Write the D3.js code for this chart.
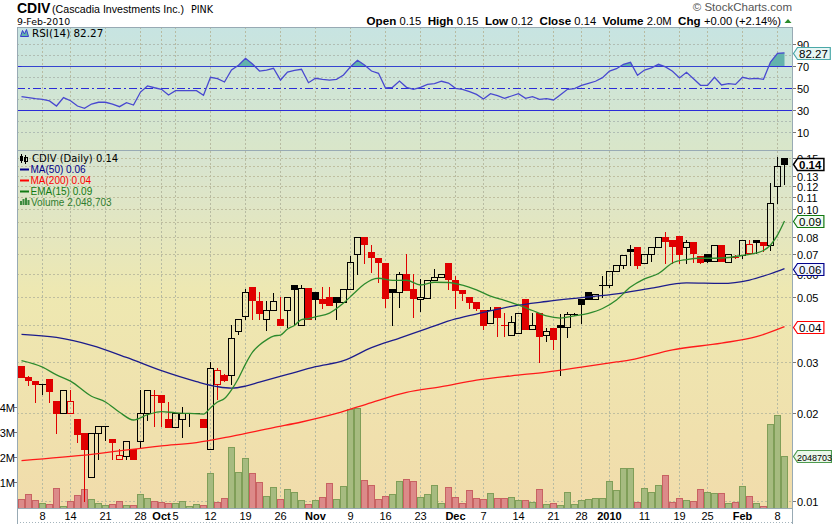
<!DOCTYPE html>
<html>
<head>
<meta charset="utf-8">
<script src="https://cdn.jsdelivr.net/npm/d3@7"></script>
<style>
  html, body { margin: 0; padding: 0; background: #fff; }
  svg { display: block; font-family: "Liberation Sans", Arial, sans-serif; }
</style>
</head>
<body>
<svg id="chart" width="832" height="524"></svg>
<script>
// ---------- data ----------
// sessions: Sep 2 2009 .. Feb 9 2010, market holidays removed
const holidays = ["2009-09-07", "2009-11-26", "2009-12-25", "2010-01-01", "2010-01-18"];

const open = [
  .0291,.0267,.0258,.0253,.0262,.0221,.0200,.0200,.0191,.0171,
  .0121,.0171,.0181,.0163,.0140,.0143,.0151,.0161,.0201,.0232,
  .0232,.0191,.0180,.0191,.0201,.0201,.0191,.0151,.0252,.0270,
  .0270,.0383,.0431,.0541,.0484,.0420,.0451,.0420,.0451,.0549,
  .0400,.0539,.0520,.0493,.0499,.0499,.0481,.0532,.0700,.0801,
  .0711,.0679,.0654,.0533,.0519,.0598,.0533,.0491,.0497,.0571,
  .0584,.0654,.0571,.0529,.0501,.0480,.0452,.0407,.0461,.0400,
  .0370,.0376,.0493,.0390,.0440,.0370,.0391,.0400,.0394,.0438,
  .0493,.0519,.0491,.0549,.0549,.0614,.0642,.0730,.0740,.0652,
  .0700,.0740,.0801,.0784,.0809,.0740,.0770,.0691,.0700,.0662,
  .0752,.0661,.0687,.0695,.0709,.0784,.0770,.0754,.1199,.1500
];
const high = [
  .0291,.0268,.0258,.0253,.0262,.0221,.0240,.0240,.0191,.0171,
  .0171,.0181,.0181,.0163,.0151,.0161,.0151,.0240,.0240,.0240,
  .0232,.0219,.0200,.0211,.0201,.0201,.0191,.0301,.0287,.0272,
  .0400,.0420,.0533,.0541,.0519,.0485,.0515,.0502,.0499,.0549,
  .0549,.0539,.0520,.0543,.0543,.0499,.0532,.0691,.0801,.0801,
  .0754,.0679,.0654,.0533,.0611,.0702,.0598,.0578,.0571,.0622,
  .0598,.0654,.0590,.0529,.0501,.0480,.0452,.0461,.0461,.0440,
  .0431,.0440,.0493,.0440,.0440,.0391,.0391,.0437,.0443,.0440,
  .0493,.0519,.0511,.0590,.0614,.0642,.0695,.0754,.0740,.0700,
  .0740,.0801,.0837,.0784,.0809,.0784,.0770,.0691,.0700,.0752,
  .0752,.0700,.0695,.0787,.0784,.0784,.0770,.1231,.1511,.1500
];
const low = [
  .0267,.0251,.0219,.0233,.0219,.0171,.0200,.0200,.0160,.0100,
  .0121,.0140,.0162,.0140,.0140,.0140,.0140,.0152,.0190,.0181,
  .0181,.0180,.0180,.0166,.0181,.0201,.0180,.0151,.0225,.0259,
  .0252,.0375,.0420,.0420,.0420,.0386,.0451,.0400,.0396,.0401,
  .0400,.0420,.0420,.0458,.0470,.0420,.0481,.0532,.0598,.0653,
  .0611,.0563,.0461,.0400,.0461,.0530,.0429,.0449,.0497,.0571,
  .0584,.0532,.0459,.0489,.0458,.0452,.0390,.0407,.0368,.0368,
  .0370,.0376,.0390,.0390,.0301,.0355,.0331,.0271,.0364,.0436,
  .0409,.0494,.0491,.0502,.0543,.0614,.0630,.0643,.0627,.0652,
  .0666,.0740,.0652,.0652,.0652,.0652,.0658,.0652,.0661,.0662,
  .0666,.0661,.0680,.0679,.0709,.0709,.0720,.0724,.1046,.1220
];
const close = [
  .0267,.0261,.0252,.0253,.0239,.0200,.0240,.0220,.0170,.0151,
  .0171,.0181,.0181,.0160,.0144,.0161,.0140,.0201,.0240,.0232,
  .0219,.0180,.0200,.0201,.0201,.0201,.0180,.0285,.0281,.0261,
  .0361,.0420,.0519,.0490,.0440,.0451,.0485,.0400,.0499,.0532,
  .0539,.0420,.0491,.0478,.0470,.0481,.0532,.0658,.0801,.0758,
  .0687,.0661,.0497,.0519,.0598,.0530,.0497,.0501,.0571,.0584,
  .0598,.0577,.0528,.0518,.0480,.0460,.0400,.0452,.0429,.0400,
  .0410,.0440,.0390,.0400,.0369,.0382,.0360,.0394,.0437,.0438,
  .0472,.0494,.0511,.0549,.0614,.0642,.0695,.0719,.0643,.0700,
  .0740,.0801,.0778,.0750,.0700,.0770,.0709,.0660,.0662,.0752,
  .0666,.0700,.0687,.0784,.0758,.0770,.0754,.1046,.1400,.1430
];
const priorClose = 0.0295;   // close of the session before the first one shown

// volume, millions of shares
const volume = [
  .33,.53,.29,.17,.13,.76,.07,.25,.49,.72,
  .33,.17,.11,.13,.25,.09,.09,.53,.38,.25,
  .21,.17,.17,.25,.07,.13,.09,1.39,.21,.38,
  2.38,1.43,1.95,1.36,1.00,.46,.80,.33,.72,.61,
  .29,.13,.29,.41,.96,.33,.84,3.92,3.96,1.08,
  .88,.33,.45,.53,1.04,1.12,1.04,.41,.53,.88,
  .17,.80,.41,.17,.68,.37,.33,.57,.37,.37,
  .41,.29,.29,.21,.72,.13,.17,.09,.61,.13,
  .29,.33,.37,.37,1.04,.68,1.55,1.55,.21,.76,
  .61,.88,1.28,.21,.37,.29,.25,.72,.64,.57,
  .57,.17,.21,.84,.45,.17,.05,3.29,3.68,2.048703
];

// RSI(14)
const rsi = [
  42.4,41.5,40.6,40.0,38.5,33.9,41.5,38.7,33.9,31.8,
  35.7,37.3,37.3,35.7,33.3,36.9,34.8,46.6,52.1,50.5,
  49.1,43.9,47.8,47.8,47.8,47.8,43.6,60.0,58.7,55.7,
  66.6,70.9,77.3,72.1,65.7,66.6,68.2,57.5,64.8,66.3,
  67.3,55.1,59.1,58.2,57.5,58.2,62.1,69.6,75.5,71.2,
  65.7,63.6,50.3,50.9,56.6,50.9,49.1,50.9,53.6,54.2,
  56.4,54.8,50.0,49.1,46.9,44.5,40.3,45.1,43.3,40.9,
  43.0,45.1,40.9,42.4,40.0,40.6,39.4,44.2,49.1,49.7,
  52.7,54.5,56.4,59.7,65.7,67.8,71.8,73.6,61.8,66.6,
  68.5,71.8,69.4,65.5,59.4,64.5,58.7,52.7,52.7,60.0,
  53.0,54.2,53.6,60.0,58.5,59.1,58.2,73.9,81.8,82.27
];

// moving averages, by session index
const ma50At  = [0,5,10,15,20,25,28,30,32,34,38,42,46,50,54,58,62,66,70,75,80,85,90,95,100,104,107,109];
const ma50    = [.0373,.0364,.0342,.0311,.0280,.0257,.0247,.0244,.0248,.0256,.0272,.0289,.0303,.0336,.0362,.0391,.0421,.0443,.0465,.0483,.0498,.0513,.0537,.0559,.0557,.0572,.0601,.0626];
const ma200At = [0,10,20,25,30,36,40,45,50,55,60,65,70,75,80,85,87,93,100,105,109];
const ma200   = [.0138,.0145,.0155,.0159,.0167,.0179,.0187,.0200,.0218,.0236,.0247,.0260,.0269,.0277,.0288,.0300,.0305,.0330,.0348,.0366,.0396];
const ema15At = [0,3,5,7,10,12,14,16,18,20,22,24,26,27,28,29,30,31,32,33,34,35,36,37,38,39,40,41,42,44,46,47,48,49,50,51,53,55,57,59,61,63,65,67,69,71,73,75,77,79,81,83,85,87,89,91,93,95,97,99,101,103,105,106,107,108,109];
const ema15   = [.0303,.0288,.0271,.0258,.0229,.0219,.0202,.0190,.0198,.0203,.0201,.0200,.0199,.0209,.0219,.0225,.0241,.0264,.0295,.0324,.0343,.0357,.0368,.0371,.0389,.0400,.0419,.0422,.0428,.0441,.0477,.0502,.0529,.0554,.0573,.0580,.0570,.0571,.0550,.0562,.0561,.0549,.0529,.0504,.0487,.0470,.0450,.0431,.0424,.0431,.0440,.0457,.0489,.0541,.0577,.0602,.0654,.0672,.0679,.0679,.0683,.0694,.0708,.0722,.0754,.0815,.0910];

// date axis
const tickDates  = ["2009-09-08","2009-09-14","2009-09-21","2009-09-28","2009-10-01","2009-10-05","2009-10-12","2009-10-19","2009-10-26","2009-11-02","2009-11-09","2009-11-16","2009-11-23","2009-12-01","2009-12-07","2009-12-14","2009-12-21","2009-12-28","2010-01-04","2010-01-11","2010-01-19","2010-01-25","2010-02-01","2010-02-08"];
const tickLabels = ["8","14","21","28","Oct","5","12","19","26","Nov","9","16","23","Dec","7","14","21","28","2010","11","19","25","Feb","8"];
const tickBold   = ["Oct","Nov","Dec","2010","Feb"];

// price labels (those under a value tag are left to the tag)
const priceTicks  = [0.01,0.02,0.03,0.05,0.06,0.07,0.08,0.10,0.11,0.12,0.13,0.15];
const priceGrid   = [0.01,0.02,0.03,0.04,0.05,0.06,0.07,0.08,0.09,0.10,0.11,0.12,0.13,0.14,0.15];
const rsiTicks    = [10,30,50,70,90];
const rsiGrid     = [10,20,40,60,80,90];
const volumeTicks = [1,2,3,4];

// ---------- layout ----------
const L = 17, R = 793;
const rsiTop = 27, rsiBot = 150, priceTop = 151, priceBot = 508;

const fmtDay = d3.utcFormat("%Y-%m-%d");
const sessions = d3.utcDay.range(new Date(Date.UTC(2009, 8, 2)), new Date(Date.UTC(2010, 1, 10)))
  .filter(d => d.getUTCDay() % 6 !== 0 && !holidays.includes(fmtDay(d)))
  .map(fmtDay);

const x = d3.scaleBand().domain(sessions).range([18, 18 + 7 * sessions.length]);
const xc = i => x(sessions[i]) + 3.5;
const yP = d3.scaleLog().domain([0.0095, 0.158]).range([priceBot, priceTop]);
const yR = d3.scaleLinear().domain([0, 100]).range([143.3, 33.3]);
const yV = d3.scaleLinear().domain([0, 4]).range([507.7, 406.5]);

const svg = d3.select("#chart");
const defs = svg.append("defs");
function vgrad(id, stops) {
  const g = defs.append("linearGradient").attr("id", id)
    .attr("x1", 0).attr("y1", 0).attr("x2", 0).attr("y2", 1);
  stops.forEach(([o, c]) => g.append("stop").attr("offset", o).attr("stop-color", c));
}
vgrad("gRsi", [[0, "#c7e4e2"], [1, "#d9e6c9"]]);
vgrad("gPrice", [[0, "#d6e4d2"], [0.4, "#eee8b1"], [1, "#f1dcab"]]);
defs.append("clipPath").attr("id", "cRsi").append("rect")
  .attr("x", L).attr("y", rsiTop).attr("width", R - L).attr("height", rsiBot - rsiTop);
defs.append("clipPath").attr("id", "cPrice").append("rect")
  .attr("x", L).attr("y", priceTop).attr("width", R - L).attr("height", priceBot - priceTop);
defs.append("clipPath").attr("id", "cRsiHigh").append("rect")
  .attr("x", L).attr("y", rsiTop).attr("width", R - L).attr("height", yR(70) - rsiTop);

// ---------- header ----------
svg.append("text").attr("x", 17).attr("y", 12.5).attr("font-size", 14).attr("font-weight", "bold")
  .attr("fill", "#000").text("CDIV");
svg.append("text").attr("x", 52).attr("y", 12.5).attr("font-size", 11.5).attr("fill", "#000")
  .attr("textLength", 132).attr("lengthAdjust", "spacingAndGlyphs")
  .text("(Cascadia Investments Inc.)");
svg.append("text").attr("x", 191).attr("y", 12.5).attr("font-size", 9.6)
  .attr("font-family", "DejaVu Sans").attr("fill", "#000").text("PINK");
svg.append("text").attr("x", 17).attr("y", 24.5).attr("font-size", 9.4)
  .attr("font-family", "DejaVu Sans").attr("fill", "#000").text("9-Feb-2010");
svg.append("text").attr("x", 792).attr("y", 10.5).attr("text-anchor", "end")
  .attr("font-size", 11.5).attr("fill", "#555").text("\u00A9 StockCharts.com");

const last = close.length - 1;
const chg = close[last] - close[last - 1];
const quote = [
  ["Open", d3.format(".2f")(open[last])],
  ["High", d3.format(".2f")(high[last])],
  ["Low", d3.format(".2f")(low[last])],
  ["Close", d3.format(".2f")(close[last])],
  ["Volume", d3.format(".1f")(volume[last]) + "M"],
  ["Chg", d3.format("+.2f")(chg) + " (" + d3.format("+.2f")(chg / close[last - 1] * 100) + "%)"]
];
const qt = svg.append("text").attr("x", 781).attr("y", 24.5).attr("text-anchor", "end")
  .attr("font-size", 11.2).attr("fill", "#000").attr("xml:space", "preserve");
quote.forEach(([k, v], j) => {
  qt.append("tspan").attr("font-weight", "bold").attr("font-size", 11.6).text((j ? "  " : "") + k + " ");
  qt.append("tspan").text(v);
});
svg.append("path").attr("d", "M784.5,23L788,19L791.5,23Z").attr("fill", "#2a8a2a");

// ---------- panels ----------
svg.append("rect").attr("x", L).attr("y", rsiTop).attr("width", R - L).attr("height", rsiBot - rsiTop)
  .attr("fill", "url(#gRsi)");
svg.append("rect").attr("x", L).attr("y", priceTop).attr("width", R - L).attr("height", priceBot - priceTop)
  .attr("fill", "url(#gPrice)");

const tickIdx = tickDates.map(d => sessions.indexOf(d));

// vertical grid
[[rsiTop, rsiBot], [priceTop, priceBot]].forEach(([a, b]) => {
  svg.append("g").selectAll("line").data(tickIdx).join("line")
    .attr("x1", i => xc(i)).attr("x2", i => xc(i)).attr("y1", a).attr("y2", b)
    .attr("stroke", "#b7bba2").attr("stroke-dasharray", "2,2").attr("shape-rendering", "crispEdges");
});
// horizontal grid
svg.append("g").selectAll("line").data(rsiGrid).join("line")
  .attr("x1", L).attr("x2", R).attr("y1", v => Math.round(yR(v)) + 0.5).attr("y2", v => Math.round(yR(v)) + 0.5)
  .attr("stroke", "#b0bdb4").attr("stroke-dasharray", "2,2").attr("shape-rendering", "crispEdges");
svg.append("g").selectAll("line").data(priceGrid).join("line")
  .attr("x1", L).attr("x2", R).attr("y1", v => Math.round(yP(v)) + 0.5).attr("y2", v => Math.round(yP(v)) + 0.5)
  .attr("stroke", "#bfbe9f").attr("stroke-dasharray", "2,2").attr("shape-rendering", "crispEdges");

// ---------- RSI panel ----------
const gR = svg.append("g").attr("clip-path", "url(#cRsi)");
[30, 70].forEach(v => gR.append("line").attr("x1", L).attr("x2", R)
  .attr("y1", Math.round(yR(v)) + 0.5).attr("y2", Math.round(yR(v)) + 0.5)
  .attr("stroke", "#2b2bd8").attr("stroke-width", 1.2));
gR.append("line").attr("x1", L).attr("x2", R)
  .attr("y1", Math.round(yR(50)) + 0.5).attr("y2", Math.round(yR(50)) + 0.5)
  .attr("stroke", "#2b2bd8").attr("stroke-width", 1.2).attr("stroke-dasharray", "8,3,2,3");
gR.append("path").datum(rsi).attr("clip-path", "url(#cRsiHigh)")
  .attr("d", d3.area().x((v, i) => xc(i)).y0(yR(70)).y1(v => yR(v)))
  .attr("fill", "#63b3ac");
gR.append("path").datum(rsi)
  .attr("d", d3.line().x((v, i) => xc(i)).y(v => yR(v)))
  .attr("fill", "none").attr("stroke", "#4848d0").attr("stroke-width", 1.3);

// ---------- price panel ----------
const gP = svg.append("g").attr("clip-path", "url(#cPrice)");
const prevClose = i => (i === 0 ? priorClose : close[i - 1]);
const isUp = i => close[i] >= prevClose(i);

// volume
gP.append("g").selectAll("rect").data(volume).join("rect")
  .attr("x", (v, i) => xc(i) - 3).attr("width", 6)
  .attr("y", v => Math.round(yV(v)) + 0.5).attr("height", v => Math.max(0, Math.round(yV(0)) - Math.round(yV(v))))
  .attr("fill", (v, i) => isUp(i) ? "#a6bb80" : "#dc8a89")
  .attr("stroke", (v, i) => isUp(i) ? "#7f9e58" : "#c86262")
  .attr("shape-rendering", "crispEdges");

// candles
const gC = gP.append("g").attr("shape-rendering", "crispEdges");
close.forEach((c, i) => {
  const o = open[i], cx = xc(i);
  const col = isUp(i) ? "#000000" : "#e00000";
  const yTop = Math.round(yP(Math.max(o, c))), yBot = Math.round(yP(Math.min(o, c)));
  const yHi = Math.round(yP(high[i])), yLo = Math.round(yP(low[i]));
  if (yBot - yTop < 1) {
    gC.append("line").attr("x1", cx - 3.5).attr("x2", cx + 3.5)
      .attr("y1", yTop + 0.5).attr("y2", yTop + 0.5).attr("stroke", col);
    if (yLo > yHi) gC.append("line").attr("x1", cx).attr("x2", cx).attr("y1", yHi).attr("y2", yLo + 1).attr("stroke", col);
    return;
  }
  if (yHi < yTop) gC.append("line").attr("x1", cx).attr("x2", cx).attr("y1", yHi).attr("y2", yTop).attr("stroke", col);
  if (yLo > yBot) gC.append("line").attr("x1", cx).attr("x2", cx).attr("y1", yBot).attr("y2", yLo + 1).attr("stroke", col);
  gC.append("rect").attr("x", cx - 3).attr("width", 6)
    .attr("y", yTop + 0.5).attr("height", yBot - yTop)
    .attr("fill", c > o ? "none" : col).attr("stroke", col);
});

// moving averages
const maLine = (idx, vals, color) => gP.append("path")
  .datum(idx.map((i, k) => [xc(i), yP(vals[k])]))
  .attr("d", d3.line().curve(d3.curveMonotoneX))
  .attr("fill", "none").attr("stroke", color).attr("stroke-width", 1.3);
maLine(ma200At, ma200, "#ff1a1a");
maLine(ma50At, ma50, "#1c1c8c");
maLine(ema15At, ema15, "#2c8a2c");

// ---------- frames ----------
svg.append("rect").attr("x", L + 0.5).attr("y", rsiTop + 0.5).attr("width", R - L - 1).attr("height", rsiBot - rsiTop)
  .attr("fill", "none").attr("stroke", "#98aab4").attr("shape-rendering", "crispEdges");
svg.append("rect").attr("x", L + 0.5).attr("y", priceTop - 0.5).attr("width", R - L - 1).attr("height", priceBot - priceTop + 1)
  .attr("fill", "none").attr("stroke", "#98aab4").attr("shape-rendering", "crispEdges");
svg.append("line").attr("x1", L).attr("x2", R).attr("y1", 522.5).attr("y2", 522.5)
  .attr("stroke", "#a4b4bc").attr("stroke-dasharray", "1,2");
svg.append("line").attr("x1", L + 0.5).attr("x2", L + 0.5).attr("y1", priceBot).attr("y2", 524).attr("stroke", "#98aab4");
svg.append("line").attr("x1", R - 0.5).attr("x2", R - 0.5).attr("y1", priceBot).attr("y2", 524).attr("stroke", "#98aab4");

// ---------- legends ----------
svg.append("path").attr("d", "M20.5,36.5L22.5,30.5L24.5,34L26.5,29.5L28.5,36.5Z")
  .attr("fill", "#63b3ac").attr("stroke", "#3a3ad0").attr("stroke-width", 1);
svg.append("text").attr("x", 32).attr("y", 37).attr("font-family", "DejaVu Sans").attr("font-size", 10.4)
  .attr("fill", "#000").text("RSI(14) " + d3.format(".2f")(rsi[last]));

const lg = svg.append("g");
lg.append("path").attr("d", "M21.5,154V163M25.5,155V164").attr("stroke", "#000");
lg.append("rect").attr("x", 20).attr("y", 156).attr("width", 3).attr("height", 5).attr("fill", "#000");
lg.append("rect").attr("x", 24.5).attr("y", 157.5).attr("width", 3).attr("height", 4).attr("fill", "none").attr("stroke", "#000");
lg.append("text").attr("x", 32).attr("y", 162).attr("font-family", "DejaVu Sans").attr("font-size", 10)
  .attr("fill", "#000").text("CDIV (Daily) " + d3.format(".2f")(close[last]));
const legendRows = [
  ["MA(50) " + d3.format(".2f")(ma50[ma50.length - 1]), "#00008b", 173],
  ["MA(200) " + d3.format(".2f")(ma200[ma200.length - 1]), "#ff0000", 184],
  ["EMA(15) " + d3.format(".2f")(ema15[ema15.length - 1]), "#127a12", 195]
];
legendRows.forEach(([t, c, y]) => {
  lg.append("line").attr("x1", 20).attr("x2", 29).attr("y1", y - 3.5).attr("y2", y - 3.5)
    .attr("stroke", c).attr("stroke-width", 2);
  lg.append("text").attr("x", 30.5).attr("y", y).attr("font-size", 10).attr("fill", c).text(t);
});
[[20, 4], [22.5, 6], [25, 7], [27.5, 5]].forEach(([bx, h]) =>
  lg.append("rect").attr("x", bx).attr("y", 205 - h).attr("width", 2).attr("height", h).attr("fill", "#3d8a3d"));
lg.append("text").attr("x", 31).attr("y", 206).attr("font-size", 10).attr("fill", "#2f7d2f")
  .text("Volume " + d3.format(",")(Math.round(volume[last] * 1e6)));

// ---------- axes ----------
const axR = svg.append("g").attr("font-size", 11).attr("fill", "#000");
rsiTicks.forEach(v => {
  const y = Math.round(yR(v)) + 0.5;
  axR.append("line").attr("x1", R).attr("x2", R + 3).attr("y1", y).attr("y2", y).attr("stroke", "#777");
  axR.append("text").attr("x", 797).attr("y", y + 4).text(v);
});
priceTicks.forEach(v => {
  const y = Math.round(yP(v)) + 0.5;
  axR.append("line").attr("x1", R).attr("x2", R + 3).attr("y1", y).attr("y2", y).attr("stroke", "#777");
  axR.append("text").attr("x", 797).attr("y", y + 4).text(d3.format(".2f")(v));
});
volumeTicks.forEach(v => {
  const y = Math.round(yV(v)) + 0.5;
  svg.append("line").attr("x1", L - 3).attr("x2", L).attr("y1", y).attr("y2", y).attr("stroke", "#777");
  svg.append("text").attr("x", 15).attr("y", y + 4).attr("text-anchor", "end").attr("font-size", 11)
    .text(v + "M");
});
svg.append("g").selectAll("text").data(tickIdx).join("text")
  .attr("x", i => xc(i)).attr("y", 520).attr("text-anchor", "middle").attr("font-size", 11)
  .attr("font-weight", (i, k) => tickBold.includes(tickLabels[k]) ? "bold" : "normal")
  .text((i, k) => tickLabels[k]);

// value tags on the right edge
function tag(y, label, stroke, fill, bold, size, tx) {
  const yy = Math.round(y) + 0.5;
  const g = svg.append("g");
  const t = g.append("text").attr("x", tx || 799).attr("y", yy + 4).attr("font-size", size || 11.5)
    .attr("font-weight", bold ? "bold" : "normal").attr("fill", "#000").text(label);
  const w = t.node().getComputedTextLength();
  const right = Math.min((tx || 799) + w + 2.5, 831.5);
  g.insert("path", "text")
    .attr("d", `M${R + 0.5},${yy}L${R + 4.5},${yy - 6}H${right}V${yy + 6}H${R + 4.5}Z`)
    .attr("fill", fill).attr("stroke", stroke).attr("stroke-width", bold ? 1.5 : 1.2);
}
tag(yR(rsi[last]), d3.format(".2f")(rsi[last]), "#4aa8a8", "#e6f5f4", false);
tag(yP(ma200[ma200.length - 1]), d3.format(".2f")(ma200[ma200.length - 1]), "#ff0000", "#ffffff", false);
tag(yP(ma50[ma50.length - 1]), d3.format(".2f")(ma50[ma50.length - 1]), "#00008b", "#eef2ff", false);
tag(yP(ema15[ema15.length - 1]), d3.format(".2f")(ema15[ema15.length - 1]), "#127a12", "#f2fbf2", false);
tag(yP(close[last]), d3.format(".2f")(close[last]), "#000000", "#ffffff", true);
tag(yV(volume[last]), String(Math.round(volume[last] * 1e6)), "#4f9a4f", "#eaf7ea", false, 9, 797);
</script>
</body>
</html>
